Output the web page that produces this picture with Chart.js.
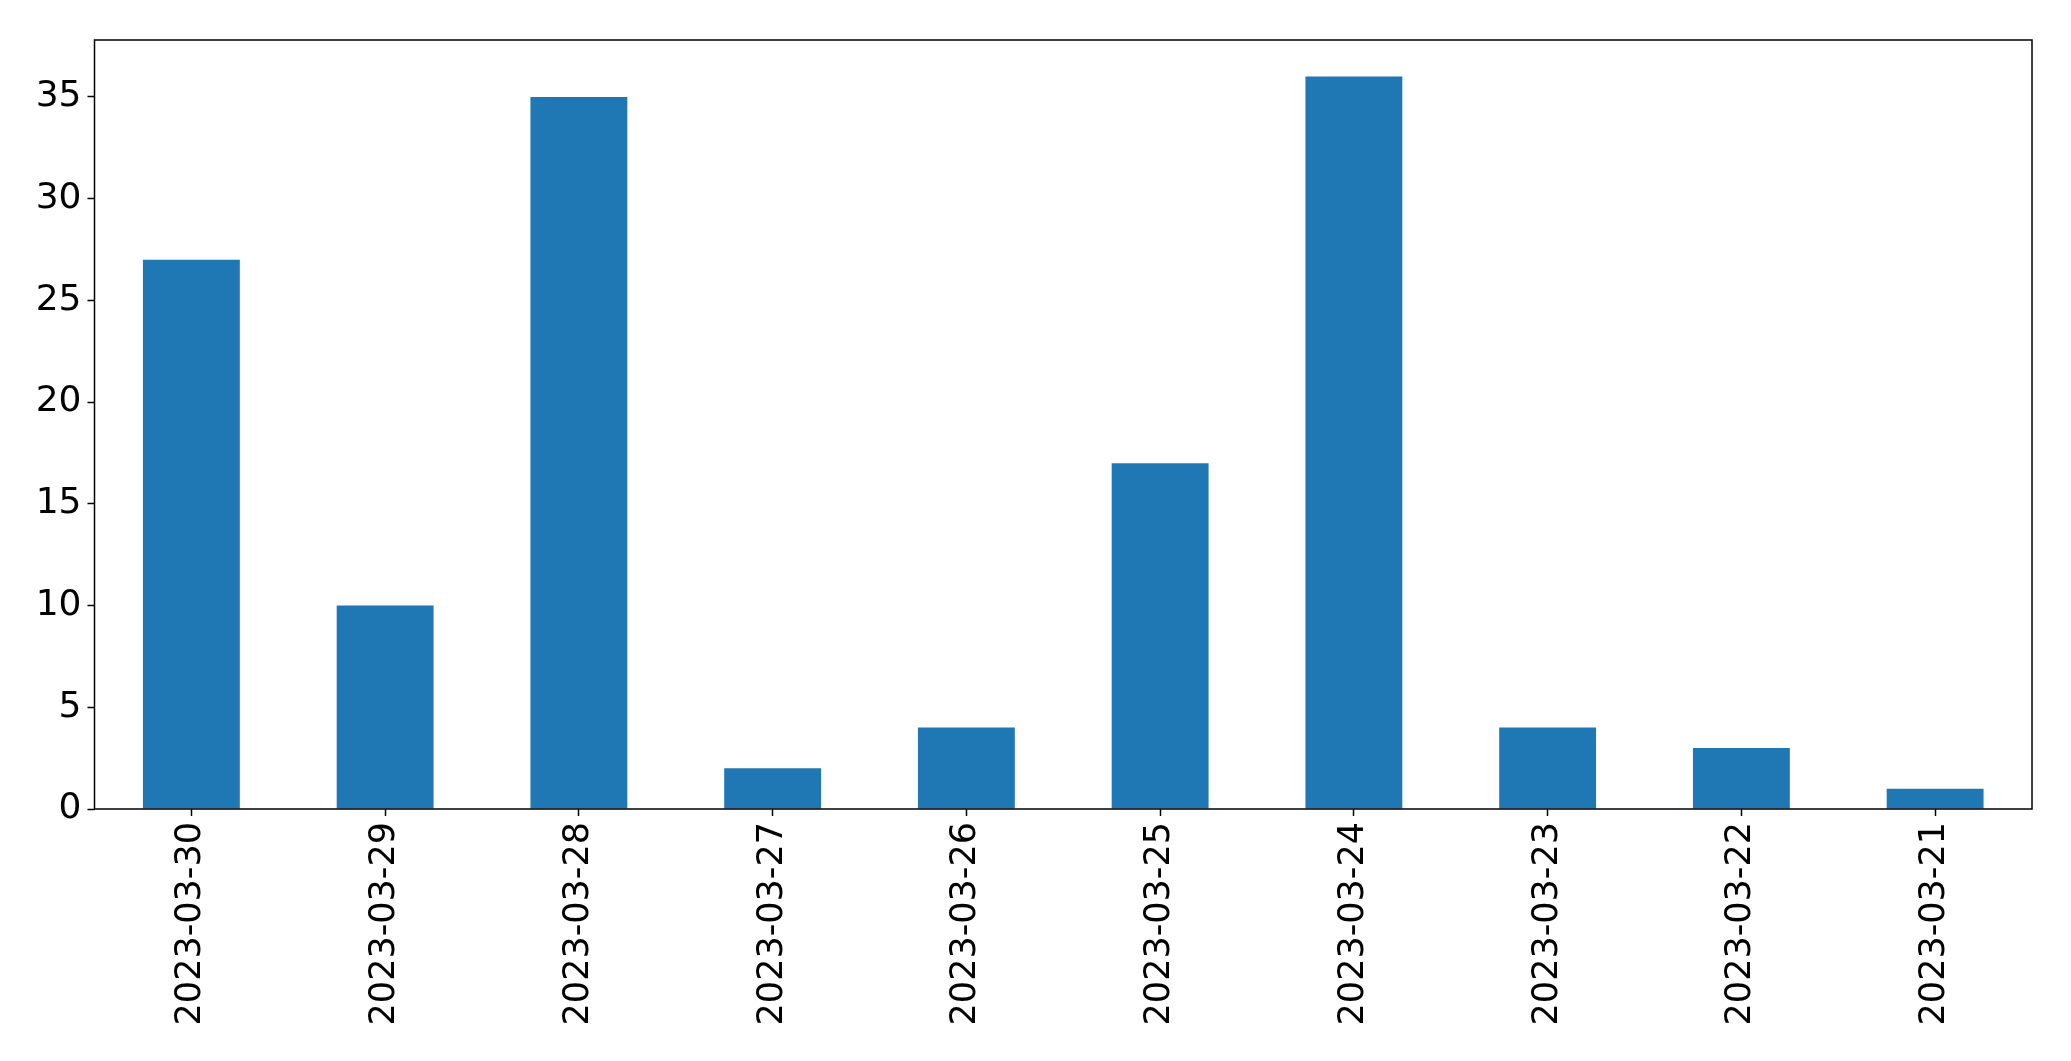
<!doctype html>
<html lang="en">
  <head>
    <meta charset="utf-8">
    <title>Daily counts</title>
    <script src="https://cdn.jsdelivr.net/npm/chart.js"></script>
    <style>
      html, body { margin: 0; padding: 0; background: #fff; }
      #wrap { width: 2071px; height: 1061px; }
    </style>
  </head>
  <body>
  <div id="wrap"><canvas id="myChart"></canvas></div>
  <script>
    // data
    const dates = ['2023-03-30', '2023-03-29', '2023-03-28', '2023-03-27', '2023-03-26',
                   '2023-03-25', '2023-03-24', '2023-03-23', '2023-03-22', '2023-03-21'];
    const counts = [27, 10, 35, 2, 4, 17, 36, 4, 3, 1];
    const yTicks = [0, 5, 10, 15, 20, 25, 30, 35];

    // frame all four sides like matplotlib
    const frame = {
        id: 'frame',
        afterDraw: (chart) => {
            const ctx = chart.ctx;
            const a = chart.chartArea;
            ctx.save();
            ctx.strokeStyle = '#000';
            ctx.lineWidth = 1.5;
            ctx.strokeRect(a.left, a.top, a.right - a.left, a.bottom - a.top);
            ctx.restore();
        }
    };

    const myChart = new Chart(document.getElementById('myChart'), {
        type: 'bar',
        data: {
            labels: dates,
            datasets: [{
                data: counts,
                backgroundColor: '#1f77b4',
                borderWidth: 0,
                barPercentage: 0.5,
                categoryPercentage: 1.0
            }]
        },
        plugins: [frame],
        options: {
            responsive: true,
            maintainAspectRatio: false,
            animation: false,
            layout: { padding: { top: 40, right: 39, left: 0, bottom: 0 } },
            plugins: {
                legend: { display: false },
                tooltip: { enabled: false }
            },
            scales: {
                x: {
                    offset: true,
                    grid: { offset: false, drawOnChartArea: false, drawTicks: true, tickLength: 7, tickColor: '#000', tickWidth: 1.5 },
                    border: { display: false },
                    ticks: { color: '#000', font: { family: 'DejaVu Sans', size: 35 }, maxRotation: 90, minRotation: 90, padding: 6, autoSkip: false },
                    afterFit: (scale) => { scale.height = 252; }
                },
                y: {
                    min: 0,
                    max: 37.8,
                    grid: { drawOnChartArea: false, drawTicks: true, tickLength: 7, tickColor: '#000', tickWidth: 1.5 },
                    border: { display: false },
                    ticks: { color: '#000', font: { family: 'DejaVu Sans', size: 36 }, padding: 6, stepSize: 5 },
                    afterBuildTicks: (scale) => {
                        scale.ticks = yTicks.map(v => ({ value: v }));
                    },
                    afterFit: (scale) => { scale.width = 94.5; }
                }
            }
        }
    });
  </script>
  </body>
</html>
